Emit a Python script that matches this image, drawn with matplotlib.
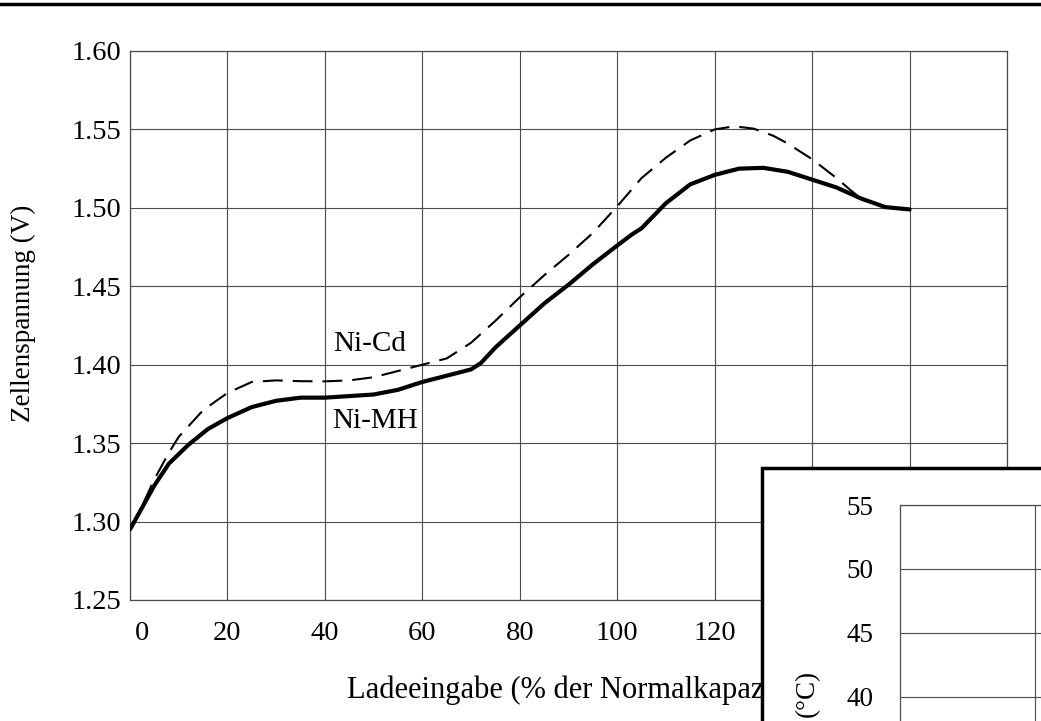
"""
Ladekurven Ni-Cd vs Ni-MH (Zellenspannung über Ladeeingabe),
nachgebaut nach einer eingescannten Buchseite.
Output: out.png
"""

import matplotlib
matplotlib.use("Agg")
import matplotlib.pyplot as plt
import matplotlib.transforms as mtransforms
from matplotlib.patches import Rectangle
from matplotlib.lines import Line2D

plt.rcParams["font.family"] = ["Liberation Serif", "DejaVu Serif"]

W, H = 1041, 721   # figure size in px

# --- data -------------------------------------------------------------------
nimh_x = [0, 2.5, 5, 8, 12, 16, 20, 25, 30, 35, 40, 45, 50, 55, 60, 65, 70, 72,
          75, 80, 85, 90, 95, 100, 103, 105, 110, 115, 120, 125, 130, 135, 140,
          145, 150, 155, 160]
nimh_v = [1.295, 1.309, 1.323, 1.337, 1.349, 1.359, 1.366, 1.373, 1.377, 1.379,
          1.379, 1.380, 1.381, 1.384, 1.389, 1.393, 1.397, 1.401, 1.411, 1.425,
          1.439, 1.451, 1.464, 1.476, 1.483, 1.487, 1.503, 1.515, 1.521, 1.525,
          1.5255, 1.523, 1.518, 1.513, 1.506, 1.5005, 1.499]

nicd_x = [0, 2.5, 5, 8, 10, 15, 20, 25, 30, 35, 40, 45, 50, 55, 60, 65, 70, 75,
          80, 85, 90, 95, 100, 105, 110, 115, 120, 124, 128, 132, 135, 140, 145,
          148, 150, 155, 160]
nicd_v = [1.295, 1.310, 1.327, 1.344, 1.354, 1.371, 1.382, 1.389, 1.390, 1.3895,
          1.3894, 1.390, 1.392, 1.396, 1.400, 1.404, 1.414, 1.428, 1.443, 1.457,
          1.470, 1.484, 1.501, 1.519, 1.532, 1.543, 1.550, 1.552, 1.5505, 1.546,
          1.541, 1.531, 1.519, 1.511, 1.506, 1.5005, 1.499]

x_ticks = [0, 20, 40, 60, 80, 100, 120, 140, 160, 180]
y_ticks = [1.25, 1.30, 1.35, 1.40, 1.45, 1.50, 1.55, 1.60]

inset_y_ticks = [40, 45, 50, 55]

GRID = "#4a4a4a"

fig = plt.figure(figsize=(W / 100, H / 100), dpi=100)
fig.patch.set_facecolor("white")

# --- main chart -------------------------------------------------------------
ax = fig.add_axes([130 / W, 1 - 600 / H, 877 / W, 549 / H])
ax.plot(nicd_x, nicd_v, color="black", lw=1.5, dashes=(9.5, 4.8), zorder=3)
ax.plot(nimh_x, nimh_v, color="black", lw=3.0, solid_capstyle="round",
        solid_joinstyle="round", zorder=4)

ax.set_xlim(0, 180)
ax.set_ylim(1.25, 1.60)
ax.set_xticks(x_ticks)
ax.set_yticks(y_ticks)
ax.set_yticklabels([f"{v:.2f}" for v in y_ticks])
ax.tick_params(axis="x", length=0, pad=15, labelsize=20.5)
ax.tick_params(axis="y", length=0, pad=6, labelsize=20.5)
ax.grid(color=GRID, lw=0.8)
for s in ax.spines.values():
    s.set_color(GRID)
    s.set_linewidth(0.9)

# the "0" sits a little right of its grid line in the scan
lbl0 = ax.get_xticklabels()[0]
lbl0.set_transform(lbl0.get_transform() +
                   mtransforms.ScaledTranslation(12 / 100, 0, fig.dpi_scale_trans))

ax.text(49.2, 1.4134, "Ni-Cd", ha="center", va="center", fontsize=21)
ax.text(50.3, 1.364, "Ni-MH", ha="center", va="center", fontsize=21)

fig.text(23 / W, 1 - 313 / H, "Zellenspannung (V)", rotation=90,
         ha="center", va="center", fontsize=19.5)
fig.text(347 / W, 1 - 690 / H, "Ladeeingabe (% der Normalkapazität)",
         ha="left", va="center", fontsize=22)

# thick rule at the top of the page
fig.add_artist(Line2D([0, 1], [1 - 4 / H] * 2, color="black", lw=2.5,
                      transform=fig.transFigure))

# --- second chart (cut off at bottom right) ---------------------------------
frame = Rectangle((762 / W, -0.1), 0.4, (1 - 468 / H) + 0.1,
                  transform=fig.transFigure, facecolor="white",
                  edgecolor="black", lw=2.5, zorder=10)
fig.add_artist(frame)

top2 = 1 - 505 / H
ax2 = fig.add_axes([900 / W, -0.1, 0.3, top2 + 0.1], zorder=11)
h2_px = (top2 + 0.1) * H
ax2.set_ylim(55 - h2_px / 12.8, 55)
ax2.set_xlim(0, 0.3 * W / 135 * 20)
ax2.set_yticks(inset_y_ticks)
ax2.set_xticks([20])
ax2.set_xticklabels([])
ax2.tick_params(axis="y", length=0, pad=19, labelsize=19.5)
ax2.tick_params(axis="x", length=0)
ax2.grid(color=GRID, lw=0.8)
for s in ax2.spines.values():
    s.set_color(GRID)
    s.set_linewidth(0.9)

fig.text(807 / W, 1 - 693 / H, "(°C)", rotation=90, ha="center", va="center",
         fontsize=19.5, zorder=12)

fig.savefig("out.png", dpi=100, facecolor="white")
